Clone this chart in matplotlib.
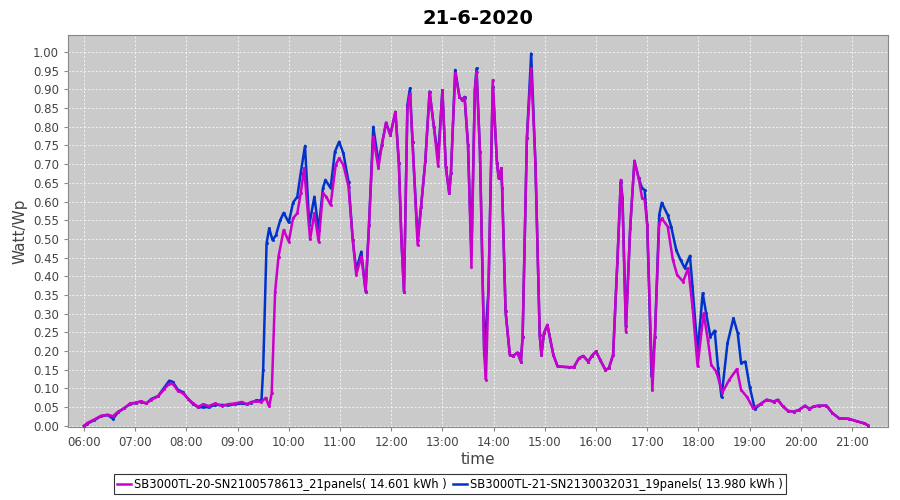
import matplotlib
matplotlib.use('Agg')
import matplotlib.pyplot as plt
import numpy as np


def to_hours(stamps):
    return [int(s[:2]) + int(s[3:]) / 60. for s in stamps]


# SB3000TL-20 (magenta)
times_a = ['06:00', '06:04', '06:12', '06:20', '06:28', '06:34', '06:40', '06:47', '06:54', '07:01',
           '07:07', '07:13', '07:19', '07:27', '07:34', '07:40', '07:44', '07:50', '07:56', '08:02',
           '08:08', '08:14', '08:20', '08:26', '08:34', '08:42', '08:49', '08:57', '09:05', '09:11',
           '09:16', '09:22', '09:28', '09:33', '09:37', '09:40', '09:44', '09:48', '09:54', '10:00',
           '10:05', '10:10', '10:14', '10:18', '10:25', '10:30', '10:35', '10:40', '10:44', '10:49',
           '10:55', '10:59', '11:04', '11:10', '11:15', '11:19', '11:25', '11:30', '11:34', '11:39',
           '11:45', '11:49', '11:54', '11:59', '12:05', '12:09', '12:12', '12:15', '12:19', '12:22',
           '12:25', '12:31', '12:35', '12:40', '12:45', '12:50', '12:55', '13:00', '13:04', '13:08',
           '13:10', '13:15', '13:20', '13:23', '13:26', '13:30', '13:34', '13:38', '13:40', '13:44',
           '13:49', '13:51', '13:54', '13:59', '14:04', '14:06', '14:09', '14:10', '14:14', '14:19',
           '14:23', '14:28', '14:32', '14:34', '14:39', '14:44', '14:49', '14:54', '14:56', '14:59',
           '15:03', '15:10', '15:15', '15:28', '15:34', '15:40', '15:45', '15:51', '15:55', '16:00',
           '16:05', '16:11', '16:15', '16:20', '16:25', '16:29', '16:31', '16:35', '16:40', '16:45',
           '16:50', '16:54', '16:57', '17:00', '17:06', '17:09', '17:14', '17:17', '17:24', '17:30',
           '17:35', '17:42', '17:48', '17:53', '17:59', '18:06', '18:11', '18:15', '18:21', '18:28',
           '18:36', '18:45', '18:50', '18:57', '19:04', '19:13', '19:20', '19:28', '19:33', '19:39',
           '19:45', '19:52', '19:58', '20:05', '20:10', '20:15', '20:21', '20:30', '20:37', '20:45',
           '20:56', '21:06', '21:14', '21:19']
watt_a = [0.000, 0.008, 0.017, 0.027, 0.030, 0.026, 0.038, 0.047, 0.060, 0.062,
          0.066, 0.060, 0.070, 0.079, 0.098, 0.113, 0.113, 0.094, 0.087, 0.073,
          0.060, 0.051, 0.058, 0.053, 0.060, 0.053, 0.058, 0.060, 0.064, 0.058,
          0.064, 0.066, 0.064, 0.075, 0.052, 0.087, 0.359, 0.453, 0.524, 0.493,
          0.555, 0.569, 0.622, 0.689, 0.499, 0.569, 0.493, 0.622, 0.613, 0.591,
          0.698, 0.716, 0.698, 0.640, 0.497, 0.404, 0.453, 0.362, 0.537, 0.774,
          0.689, 0.751, 0.811, 0.778, 0.840, 0.702, 0.497, 0.359, 0.850, 0.889,
          0.760, 0.484, 0.586, 0.709, 0.894, 0.800, 0.695, 0.898, 0.693, 0.622,
          0.676, 0.943, 0.880, 0.872, 0.878, 0.751, 0.426, 0.898, 0.947, 0.733,
          0.190, 0.123, 0.364, 0.925, 0.702, 0.662, 0.689, 0.635, 0.306, 0.190,
          0.187, 0.196, 0.172, 0.239, 0.769, 0.956, 0.702, 0.243, 0.190, 0.248,
          0.270, 0.190, 0.159, 0.157, 0.157, 0.181, 0.187, 0.172, 0.187, 0.199,
          0.176, 0.150, 0.154, 0.190, 0.439, 0.658, 0.600, 0.252, 0.529, 0.709,
          0.662, 0.609, 0.605, 0.537, 0.096, 0.239, 0.540, 0.555, 0.533, 0.444,
          0.404, 0.386, 0.422, 0.319, 0.159, 0.301, 0.230, 0.163, 0.145, 0.089,
          0.123, 0.152, 0.096, 0.077, 0.047, 0.059, 0.070, 0.065, 0.068, 0.052,
          0.040, 0.038, 0.043, 0.054, 0.045, 0.052, 0.054, 0.054, 0.034, 0.020,
          0.019, 0.012, 0.007, 0.001]

# SB3000TL-21 (blue)
times_b = ['06:00', '06:04', '06:12', '06:20', '06:28', '06:34', '06:40', '06:47', '06:54', '07:01',
           '07:07', '07:13', '07:19', '07:27', '07:34', '07:40', '07:44', '07:50', '07:56', '08:02',
           '08:08', '08:14', '08:20', '08:26', '08:34', '08:42', '08:49', '08:57', '09:05', '09:11',
           '09:16', '09:22', '09:28', '09:30', '09:34', '09:37', '09:41', '09:45', '09:50', '09:54',
           '10:00', '10:05', '10:10', '10:14', '10:19', '10:24', '10:30', '10:35', '10:40', '10:43',
           '10:49', '10:54', '10:59', '11:04', '11:10', '11:15', '11:19', '11:25', '11:30', '11:34',
           '11:39', '11:45', '11:49', '11:54', '11:59', '12:05', '12:09', '12:12', '12:15', '12:19',
           '12:22', '12:25', '12:31', '12:35', '12:40', '12:45', '12:50', '12:55', '13:00', '13:04',
           '13:08', '13:10', '13:15', '13:20', '13:23', '13:26', '13:30', '13:34', '13:38', '13:40',
           '13:44', '13:49', '13:54', '13:59', '14:04', '14:06', '14:09', '14:10', '14:14', '14:19',
           '14:23', '14:28', '14:32', '14:34', '14:39', '14:44', '14:49', '14:54', '14:56', '14:59',
           '15:03', '15:10', '15:15', '15:28', '15:34', '15:40', '15:45', '15:51', '15:55', '16:00',
           '16:05', '16:11', '16:15', '16:20', '16:25', '16:29', '16:31', '16:35', '16:40', '16:45',
           '16:50', '16:54', '16:57', '17:00', '17:05', '17:09', '17:14', '17:17', '17:24', '17:28',
           '17:34', '17:39', '17:44', '17:50', '17:53', '17:59', '18:05', '18:09', '18:14', '18:19',
           '18:23', '18:27', '18:34', '18:41', '18:46', '18:50', '18:55', '19:00', '19:06', '19:13',
           '19:20', '19:28', '19:33', '19:39', '19:45', '19:52', '19:58', '20:05', '20:10', '20:15',
           '20:21', '20:30', '20:37', '20:45', '20:56', '21:06', '21:14', '21:19']
watt_b = [0.000, 0.006, 0.015, 0.026, 0.029, 0.019, 0.036, 0.047, 0.058, 0.062,
          0.065, 0.060, 0.072, 0.080, 0.102, 0.121, 0.118, 0.097, 0.090, 0.072,
          0.058, 0.050, 0.050, 0.050, 0.056, 0.056, 0.055, 0.058, 0.060, 0.058,
          0.062, 0.068, 0.068, 0.150, 0.488, 0.528, 0.497, 0.510, 0.550, 0.570,
          0.544, 0.597, 0.613, 0.676, 0.749, 0.537, 0.613, 0.524, 0.636, 0.658,
          0.636, 0.733, 0.760, 0.729, 0.653, 0.497, 0.417, 0.466, 0.359, 0.537,
          0.800, 0.707, 0.751, 0.811, 0.778, 0.840, 0.702, 0.497, 0.359, 0.858,
          0.903, 0.760, 0.497, 0.586, 0.709, 0.894, 0.800, 0.720, 0.898, 0.693,
          0.622, 0.676, 0.952, 0.880, 0.872, 0.880, 0.751, 0.462, 0.898, 0.956,
          0.733, 0.190, 0.364, 0.907, 0.702, 0.662, 0.689, 0.635, 0.306, 0.190,
          0.187, 0.196, 0.172, 0.239, 0.769, 0.996, 0.702, 0.243, 0.190, 0.248,
          0.270, 0.190, 0.159, 0.157, 0.157, 0.181, 0.187, 0.172, 0.187, 0.199,
          0.176, 0.150, 0.154, 0.190, 0.439, 0.653, 0.610, 0.266, 0.529, 0.709,
          0.662, 0.635, 0.631, 0.537, 0.132, 0.239, 0.564, 0.597, 0.564, 0.533,
          0.470, 0.444, 0.422, 0.455, 0.373, 0.199, 0.355, 0.301, 0.239, 0.255,
          0.154, 0.077, 0.221, 0.288, 0.248, 0.168, 0.172, 0.105, 0.045, 0.059,
          0.070, 0.065, 0.070, 0.052, 0.040, 0.038, 0.043, 0.054, 0.045, 0.052,
          0.054, 0.054, 0.034, 0.020, 0.019, 0.012, 0.007, 0.001]

label_a = 'SB3000TL-20-SN2100578613_21panels( 14.601 kWh )'
label_b = 'SB3000TL-21-SN2130032031_19panels( 13.980 kWh )'
hours = list(range(6, 22))

fig = plt.figure(figsize=(9, 5), dpi=100)
ax = fig.add_axes([0.0756, 0.146, 0.911, 0.784])
ax.set_facecolor('#cacaca')

ax.plot(to_hours(times_b), watt_b, color='#0033cc', lw=1.8, zorder=3,
        marker='s', ms=1.0, label=label_b)
ax.plot(to_hours(times_a), watt_a, color='#cc00cc', lw=1.8, zorder=4,
        marker='s', ms=1.0, label=label_a)

ax.set_xlim(5.69, 21.70)
ax.set_ylim(-0.003, 1.0455)
ax.set_xticks(hours)
ax.set_xticklabels(['%02d:00' % h for h in hours])
ax.set_yticks(np.arange(0, 1.001, 0.05))
ax.set_yticklabels(['%.2f' % v for v in np.arange(0, 1.001, 0.05)])
ax.tick_params(labelsize=8.5, labelcolor='#444444', color='#888888', length=3)
ax.grid(True, color='#f4f4f4', ls=(0, (2, 2)), lw=0.7)
ax.set_axisbelow(True)
for s in ax.spines.values():
    s.set_color('#888888')

ax.set_title('21-6-2020', fontsize=14, fontweight='bold', pad=8)
ax.set_xlabel('time', fontsize=11, color='#444444', labelpad=2)
ax.set_ylabel('Watt/Wp', fontsize=11, color='#444444', labelpad=4)

h, l = ax.get_legend_handles_labels()
leg = fig.legend(h[::-1], l[::-1], loc='lower center', bbox_to_anchor=(0.5, 0.0),
                 ncol=2, fontsize=8.3, frameon=True, fancybox=False, edgecolor='black',
                 handlelength=1.2, handletextpad=0.3, columnspacing=0.5,
                 borderpad=0.3)
leg.get_frame().set_linewidth(0.8)
for line in leg.get_lines():
    line.set_marker('')

fig.savefig('out.png', dpi=100)
